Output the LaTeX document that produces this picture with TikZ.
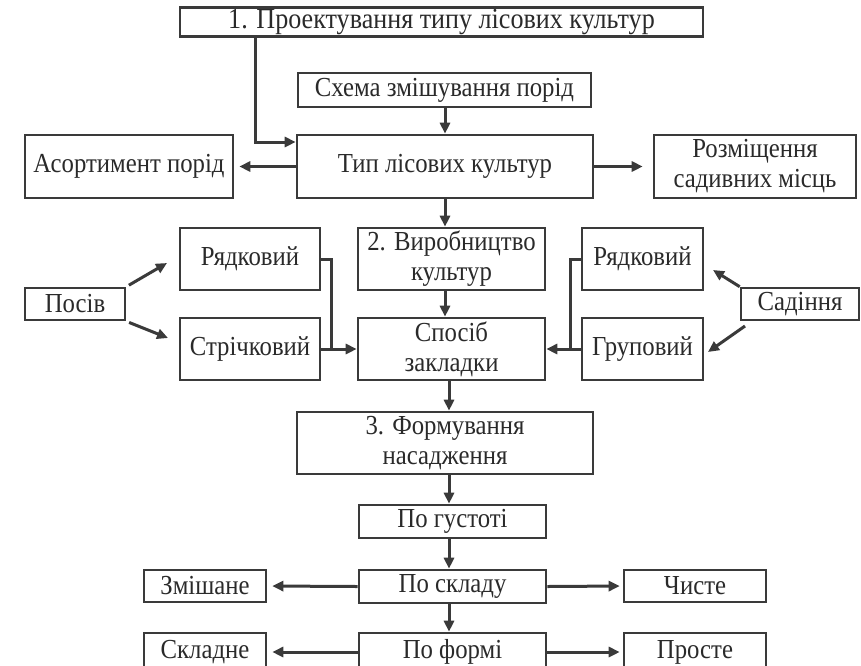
\documentclass[tikz,border=0pt]{standalone}
\usepackage{fontspec}
\setmainfont{Liberation Serif}[FakeStretch=0.9]
\usetikzlibrary{arrows.meta}
\definecolor{ink}{HTML}{3A3A3A}
\definecolor{txt}{HTML}{2A2A2A}
\begin{document}
\begin{tikzpicture}[x=1pt,y=-1pt,
  box/.style={draw=ink, line width=2.6pt, fill=white, text=txt,
    font=\fontsize{27.5}{30}\selectfont, align=center, inner sep=0pt},
  ln/.style={draw=ink, line width=3pt},
  arr/.style={ln, -{Triangle[length=11pt,width=10pt]}},
]
\clip (0,0) rectangle (861,665);
\fill[white] (0,0) rectangle (861,665);

% top
\node[box, font=\fontsize{29}{31}\selectfont, minimum width=523, minimum height=29] (box1) at (441.5,22) {1. Проектування типу лісових культур};
\node[box, minimum width=293, minimum height=34] (schema) at (444.5,90) {Схема змішування порід};
\node[box, minimum width=296, minimum height=63] (tip) at (445,166.5) {Тип лісових культур};
\node[box, minimum width=208, minimum height=63] (asort) at (129,166.5) {Асортимент порід};
\node[box, minimum width=202, minimum height=63] (rozm) at (755,166.5) {Розміщення\\садивних місць};

% middle
\node[box, minimum width=187, minimum height=62] (vyrob) at (451.5,259) {2. Виробництво\\культур};
\node[box, minimum width=140, minimum height=62] (ryadL) at (250,259) {Рядковий};
\node[box, minimum width=121, minimum height=62] (ryadR) at (642.5,259) {Рядковий};
\node[box, minimum width=100, minimum height=32] (posiv) at (75,304) {Посів};
\node[box, minimum width=118, minimum height=32] (sadin) at (800,304) {Садіння};
\node[box, minimum width=140, minimum height=62] (strich) at (250,349) {Стрічковий};
\node[box, minimum width=187, minimum height=62] (sposib) at (451.5,349) {Спосіб\\закладки};
\node[box, minimum width=121, minimum height=62] (grup) at (642.5,349) {Груповий};

% bottom
\node[box, minimum width=296, minimum height=62] (form) at (445,443) {3. Формування\\насадження};
\node[box, minimum width=187, minimum height=33] (gust) at (452.5,521.5) {По густоті};
\node[box, minimum width=187, minimum height=33] (sklad) at (452.5,586.5) {По складу};
\node[box, minimum width=122, minimum height=32] (zmish) at (205,586) {Змішане};
\node[box, minimum width=142, minimum height=32] (chyst) at (695,586) {Чисте};
\node[box, minimum width=187, minimum height=38] (forma) at (452.5,652) {По формі};
\node[box, minimum width=122, minimum height=38] (skladne) at (205,652) {Складне};
\node[box, minimum width=142, minimum height=38] (proste) at (695,652) {Просте};

% connectors
\coordinate (cx) at (445,0);
\coordinate (cx2) at (449,0);
\coordinate (j1) at (255,142);
\coordinate (jL) at (331,349);
\coordinate (jR) at (570,349);
\coordinate (pu) at (167,263);
\coordinate (pd) at (168,338);
\coordinate (su) at (713,270);
\coordinate (sd) at (708,352);
\coordinate (sdo) at (745,326);

\draw[arr] (box1.south -| j1) |- (tip.west |- j1);
\draw[arr] (schema.south -| cx) -- (tip.north -| cx);
\draw[arr, shorten >=5pt] (tip.west) -- (asort.east);
\draw[arr, shorten >=10pt] (tip.east) -- (rozm.west);
\draw[arr] (tip.south -| cx) -- (vyrob.north -| cx);
\draw[arr] (vyrob.south -| cx) -- (sposib.north -| cx);

\draw[arr, shorten <=3pt] (posiv.north east) -- (pu);
\draw[arr, shorten <=3pt] (posiv.south east) -- (pd);
\draw[arr] (sadin.north west) -- (su);
\draw[arr] (sdo) -- (sd);

\draw[ln] (ryadL.east) -| (jL);
\draw[arr] (strich.east) -- (sposib.west);
\draw[ln] (ryadR.west) -| (jR);
\draw[arr] (grup.west) -- (sposib.east);

\draw[arr] (sposib.south -| cx2) -- (form.north -| cx2);
\draw[arr] (form.south -| cx2) -- (gust.north -| cx2);
\draw[arr] (gust.south -| cx2) -- (sklad.north -| cx2);
\draw[arr] (sklad.south -| cx2) -- (forma.north -| cx2);

\draw[arr, shorten >=5pt] (sklad.west) -- (zmish.east);
\draw[arr, shorten >=3pt] (sklad.east) -- (chyst.west);
\draw[arr, shorten >=5pt] (forma.west) -- (skladne.east);
\draw[arr, shorten >=3pt] (forma.east) -- (proste.west);
\end{tikzpicture}
\end{document}
